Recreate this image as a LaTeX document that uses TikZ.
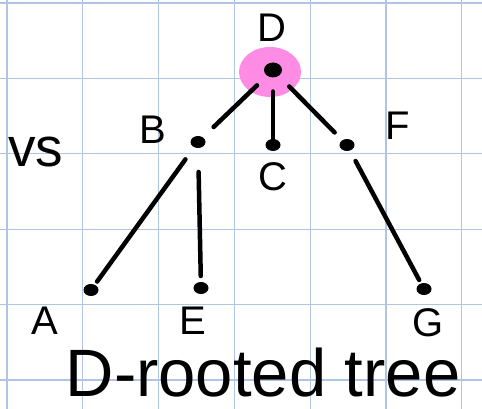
\documentclass[tikz,border=0pt]{standalone}
\usepackage{fontspec}
\setmainfont{Liberation Sans}
\begin{document}
\begin{tikzpicture}[x=1pt,y=-1pt,
  gridline/.style={draw=gridblue,line width=1.2pt},
  vdot/.style={ellipse,fill=black,inner sep=0pt,minimum width=15pt,minimum height=12pt,outer sep=0pt},
  edge/.style={line width=4.5pt,line cap=round},
  lbl/.style={inner sep=0pt,anchor=base,text depth=0pt,font=\fontsize{40}{42}\selectfont},
]
\usetikzlibrary{shapes.geometric}
\definecolor{gridblue}{RGB}{176,196,228}
\definecolor{blobpink}{RGB}{255,140,228}
\useasboundingbox (0,0) rectangle (482,409);
\fill[white] (0,0) rectangle (482,409);
% grid
\foreach \i in {0,...,6} {\draw[gridline] ({7+75.8*\i},0) -- ({7+75.8*\i},409);}
\foreach \j in {0,...,5} {\draw[gridline] (0,{3+75.4*\j}) -- (482,{3+75.4*\j});}
% blob
\fill[blobpink] (270,72) ellipse [x radius=31pt, y radius=25pt];
% nodes
\node[vdot,minimum width=18pt,minimum height=15pt] (D) at (273,70) {};
\node[vdot] (B) at (198,142) {};
\node[vdot] (C) at (273,145) {};
\node[vdot] (F) at (347,145) {};
\node[vdot] (A) at (91,290) {};
\node[vdot] (E) at (201,288) {};
\node[vdot] (G) at (424,289) {};
% edges
\draw[edge,shorten <=14pt,shorten >=15pt] (D) -- (B);
\draw[edge,shorten <=14pt] (D) -- (C);
\draw[edge,shorten <=15pt,shorten >=11pt] (D) -- (F);
\draw[edge,shorten <=15pt,shorten >=4pt] (B) -- (A);
\draw[edge,shorten <=24pt,shorten >=6pt] (B) -- (E);
\draw[edge,shorten <=12pt,shorten >=4pt] (F) -- (G);
% labels
\node[lbl] (lD) at (272,42) {D};
\node[lbl] (lB) at (153,143) {B};
\node[lbl] (lC) at (273,190) {C};
\node[lbl] (lF) at (398,140) {F};
\node[lbl] (lA) at (45,334) {A};
\node[lbl] (lE) at (193,334) {E};
\node[lbl] (lG) at (428,336) {G};
\node[inner sep=0pt,anchor=base,text depth=0pt,font=\fontsize{55}{60}\selectfont] (vs) at (36,167) {vs};
\node[inner sep=0pt,anchor=base,text height=49pt,text depth=0pt,font=\fontsize{67}{70}\selectfont] (title) at (263,396) {D-rooted tree};
\end{tikzpicture}
\end{document}
